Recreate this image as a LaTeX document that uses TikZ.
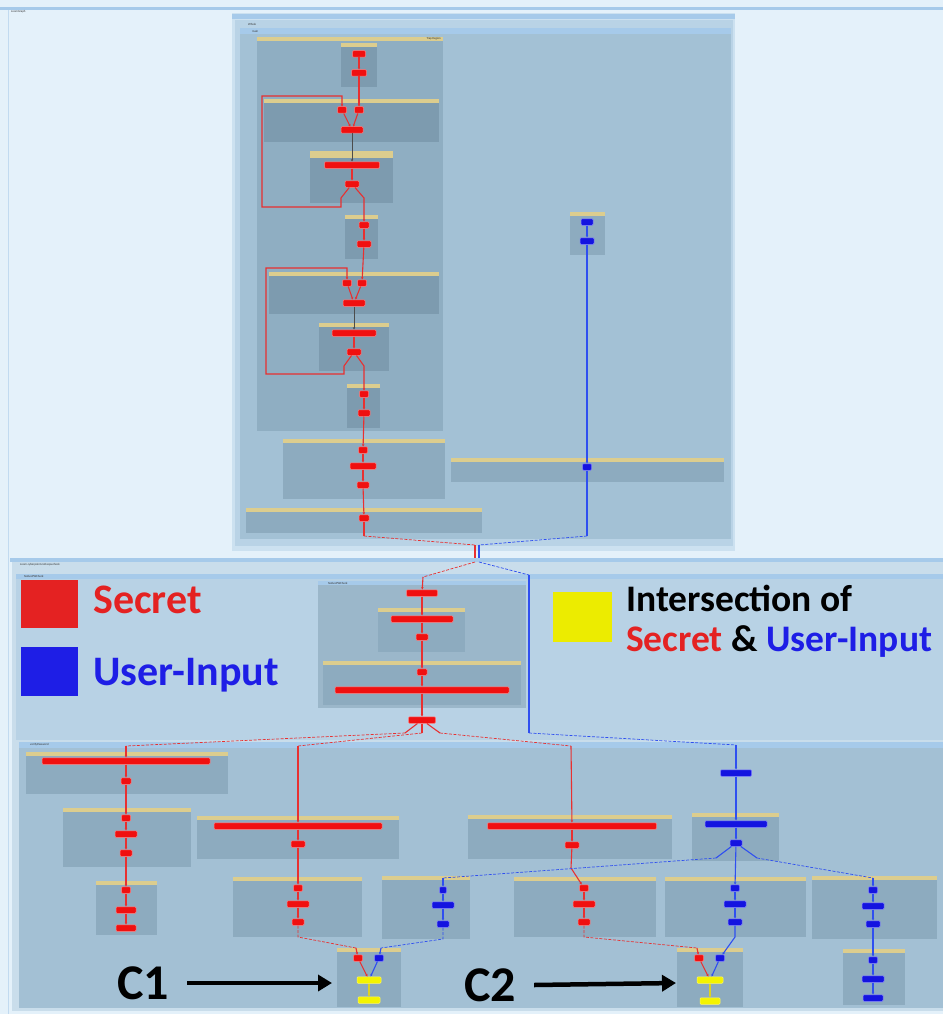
\documentclass[tikz,border=0pt]{standalone}
\usepackage{fontspec}
\setmainfont{Carlito}
\usetikzlibrary{arrows.meta}
\definecolor{pagebg}{HTML}{E4F1FA}
\definecolor{barblue}{HTML}{A6CAEA}
\definecolor{tpA}{HTML}{CCE1F0}
\definecolor{tpB}{HTML}{B9D3E6}
\definecolor{tpC}{HTML}{A3C1D5}
\definecolor{trapfill}{HTML}{8FAEC2}
\definecolor{deepbox}{HTML}{7D9BAF}
\definecolor{midbox}{HTML}{8DABBF}
\definecolor{hdr}{HTML}{DCCD8E}
\definecolor{lowA}{HTML}{C9DDEB}
\definecolor{lowB}{HTML}{B8D2E5}
\definecolor{lowC}{HTML}{A3C0D4}
\definecolor{natbox}{HTML}{9BB7CA}
\definecolor{secret}{HTML}{E42222}
\definecolor{userin}{HTML}{1E1EE6}
\definecolor{inter}{HTML}{ECEC00}
\definecolor{nred}{HTML}{F01010}
\definecolor{nblue}{HTML}{1414E0}
\definecolor{nyel}{HTML}{F4F400}
\definecolor{ered}{HTML}{E83030}
\definecolor{eblue}{HTML}{2F4FF0}
% a box with a tan header strip: x1,y1,x2,y2,fill
\newcommand{\cbox}[5]{%
  \fill[#5] (#1,#2) rectangle (#3,#4);
  \fill[hdr] (#1,#2) rectangle (#3,#2+4);}
\begin{document}
\begin{tikzpicture}[x=1pt,y=-1pt,
  nd/.style={rounded corners=1pt,minimum height=6.5pt,inner sep=0pt,line width=0.5pt},
  rn/.style={nd,fill=nred,draw=red!50!white},
  bn/.style={nd,fill=nblue,draw=blue!50!white},
  yn/.style={nd,fill=nyel,draw=yellow!60!white},
  rl/.style={draw=ered,line width=1.1pt,-{Stealth[length=2.4pt,width=2.4pt]}},
  bl/.style={draw=eblue,line width=1.1pt,-{Stealth[length=2.4pt,width=2.4pt]}},
  yl/.style={draw=yellow!85!black,line width=1.1pt,-{Stealth[length=2.4pt,width=2.4pt]}},
  kl/.style={draw=black!70,line width=1pt,-{Stealth[length=2.4pt,width=2.4pt]}},
  rd/.style={draw=ered,line width=0.7pt,dash pattern=on 3pt off 1.5pt},
  bd/.style={draw=eblue,line width=0.7pt,dash pattern=on 3pt off 1.5pt},
  rs/.style={draw=ered,line width=1.1pt},
  bs/.style={draw=eblue,line width=1.1pt},
  tiny/.style={font=\fontsize{3}{3.5}\selectfont,inner sep=0pt,text=black!80},
  legend/.style={font=\fontsize{42}{46}\selectfont\bfseries,inner sep=0pt,anchor=west},
  legendsm/.style={font=\fontsize{37.5}{41}\selectfont\bfseries,inner sep=0pt,anchor=west},
  clab/.style={font=\fontsize{50}{52}\selectfont\bfseries,inner sep=0pt},
  bigarrow/.style={line width=4.5pt,-{Triangle[length=14pt,width=16pt]}}]
\useasboundingbox (0,0) rectangle (943,1014);
\fill[pagebg] (0,0) rectangle (943,1014);
\fill[barblue] (0,7) rectangle (943,10);
\draw[barblue!70,line width=0.8pt] (8,10) -- (8,1014);
\node[tiny,anchor=west] (wintitle) at (11,12) {LoomGraph};

% ---------------- upper graph: main ----------------
\fill[tpA] (232,13) rectangle (735,551);
\fill[barblue] (232,14) rectangle (735,19);
\fill[tpB] (235,20) rectangle (733,546);
\fill[tpC] (240,34) rectangle (731,539);
\fill[barblue] (240,28) rectangle (731,34);
\node[tiny,anchor=west] (whole) at (248,24) {Whole};
\node[tiny,anchor=west] (mainlab) at (252,31) {main};

% trap region
\fill[trapfill] (257,37) rectangle (443,431);
\fill[hdr] (257,37) rectangle (443,41);
\node[tiny,anchor=east] (traplab) at (441,39) {Trap Region};

\cbox{341}{43}{377}{87}{deepbox}
\cbox{264}{99}{439}{142}{deepbox}
\cbox{310}{151}{393}{203}{deepbox}
\fill[hdr] (310,151) rectangle (393,158);
\cbox{345}{215}{378}{259}{deepbox}
\cbox{269}{272}{439}{314}{deepbox}
\cbox{319}{323}{389}{371}{deepbox}
\cbox{347}{384}{380}{428}{deepbox}
\cbox{283}{439}{445}{499}{midbox}
\cbox{246}{508}{482}{533}{midbox}
\cbox{570}{212}{605}{255}{midbox}
\cbox{451}{458}{724}{482}{midbox}

\node[rn,minimum width=13pt] (t1) at (359,54) {};
\node[rn,minimum width=15pt] (t2) at (359,73) {};
\node[rn,minimum width=9pt] (t3) at (342,110) {};
\node[rn,minimum width=9pt] (t4) at (359,110) {};
\node[rn,minimum width=22pt] (t5) at (352,130) {};
\node[rn,minimum width=55pt] (t6) at (352,165) {};
\node[rn,minimum width=14pt] (t7) at (352,184) {};
\node[rn,minimum width=10pt] (t8) at (364,225) {};
\node[rn,minimum width=14pt] (t9) at (364,244) {};
\node[rn,minimum width=9pt] (t10) at (347,283) {};
\node[rn,minimum width=9pt] (t11) at (362,283) {};
\node[rn,minimum width=22pt] (t12) at (354,303) {};
\node[rn,minimum width=44pt] (t13) at (354,333) {};
\node[rn,minimum width=14pt] (t14) at (354,352) {};
\node[rn,minimum width=9pt] (t15) at (364,394) {};
\node[rn,minimum width=12pt] (t16) at (364,413) {};
\node[rn,minimum width=9pt] (t17) at (363,450) {};
\node[rn,minimum width=26pt] (t18) at (363,466) {};
\node[rn,minimum width=12pt] (t19) at (363,485) {};
\node[rn,minimum width=10pt] (t20) at (364,518) {};
\node[bn,minimum width=12pt] (b1) at (587,222) {};
\node[bn,minimum width=14pt] (b2) at (587,241) {};
\node[bn,minimum width=9pt] (b3) at (587,467) {};

\draw[rl] (t1) -- (t2);
\draw[rl] (t2) -- (t4);
\draw[rl] (t3) -- (t5);
\draw[rl] (t4) -- (t5);
\draw[kl] (t5) -- (t6);
\draw[rl] (t6) -- (t7);
\draw[rl] (t7) -- (341,198) -- (341,207) -- (262,207) -- (262,96) -- (342,96) -- (t3);
\draw[rl] (t7) -- (364,198) -- (t8);
\draw[rl] (t8) -- (t9);
\draw[rl] (t9) -- (t11);
\draw[rl] (t10) -- (t12);
\draw[rl] (t11) -- (t12);
\draw[kl] (t12) -- (t13);
\draw[rl] (t13) -- (t14);
\draw[rl] (t14) -- (344,366) -- (344,374) -- (266,374) -- (266,268) -- (347,268) -- (t10);
\draw[rl] (t14) -- (364,366) -- (t15);
\draw[rl] (t15) -- (t16);
\draw[rl] (t16) -- (t17);
\draw[rl] (t17) -- (t18);
\draw[rl] (t18) -- (t19);
\draw[rl] (t19) -- (t20);
\draw[bl] (b1) -- (b2);
\draw[bl] (b2) -- (b3);

\coordinate (jr) at (475,545);
\coordinate (jb) at (479,545);
\draw[rs] (t20) -- (364,536);
\draw[rd] (364,536) -- (jr);
\draw[bs] (b3) -- (587,536);
\draw[bd] (587,536) -- (jb);
\draw[rs] (jr) -- (475,562);
\draw[bs] (jb) -- (479,562);

% ---------------- lower graph ----------------
\fill[barblue] (10,558) rectangle (943,562);
\fill[lowA] (12,562) rectangle (943,1011);
\node[tiny,anchor=west] (lowtitle) at (20,564.5) {Loom.cyberpoint.nativepwcheck};
\fill[lowB] (16,579) rectangle (943,740);
\fill[barblue] (16,574) rectangle (943,579);
\node[tiny,anchor=west] (natlab) at (24,576.5) {NativePWCheck};
\fill[lowC] (19,748) rectangle (943,1008);
\fill[barblue] (19,742) rectangle (943,748);
\node[tiny,anchor=west] (verlab) at (30,745) {verifyPassword};

% legend
\fill[secret] (21,580) rectangle (78,628);
\node[legend,text=secret] (lgs) at (93,600) {Secret};
\fill[userin] (21,647) rectangle (78,696);
\node[legend,text=userin] (lgu) at (93,675) {User-Input};
\fill[inter] (553,592) rectangle (612,642);
\node[legendsm,text=black] (lgi) at (626,598) {Intersection of};
\node[legendsm] (lgx) at (626,641) {\textcolor{secret}{Secret} \textcolor{black}{\&} \textcolor{userin}{User-Input}};

% NativePWCheck method box
\fill[natbox] (318,581) rectangle (526,708);
\fill[barblue] (318,581) rectangle (526,585);
\node[tiny,anchor=west] (natin) at (328,583) {NativePWCheck};
\cbox{378}{608}{465}{652}{midbox}
\cbox{323}{661}{521}{705}{midbox}
\node[rn,minimum width=31pt] (n1) at (422,593) {};
\node[rn,minimum width=62pt] (n2) at (422,619) {};
\node[rn,minimum width=12pt] (n3) at (422,637) {};
\node[rn,minimum width=10pt] (n4) at (422,672) {};
\node[rn,minimum width=174pt] (n5) at (422,690) {};
\node[rn,minimum width=27pt] (n6) at (422,720) {};
\draw[rd] (475,562) -- (423,577);
\draw[rl] (423,577) -- (n1);
\draw[rl] (n1) -- (n2);
\draw[rl] (n2) -- (n3);
\draw[rl] (n3) -- (n4);
\draw[rl] (n4) -- (n5);
\draw[rl] (n5) -- (n6);
\draw[bd] (479,562) -- (529,575);
\draw[bs] (529,575) -- (529,733);
\draw[bd] (529,733) -- (736,745);

% verifyPassword boxes
\cbox{26}{752}{228}{794}{midbox}
\cbox{63}{808}{191}{867}{midbox}
\cbox{96}{881}{157}{935}{midbox}
\cbox{197}{816}{399}{859}{midbox}
\cbox{233}{877}{362}{937}{midbox}
\cbox{468}{815}{672}{859}{midbox}
\cbox{514}{877}{656}{937}{midbox}
\cbox{692}{813}{779}{861}{midbox}
\cbox{382}{876}{470}{939}{midbox}
\cbox{665}{877}{806}{937}{midbox}
\cbox{812}{876}{937}{939}{midbox}
\cbox{843}{949}{905}{1005}{midbox}
\cbox{337}{948}{401}{1007}{midbox}
\cbox{677}{948}{743}{1007}{midbox}

\node[rn,minimum width=168pt] (v1) at (126,761) {};
\node[rn,minimum width=10pt] (v2) at (126,781) {};
\node[rn,minimum width=9pt] (v3) at (126,818) {};
\node[rn,minimum width=22pt] (v4) at (126,834) {};
\node[rn,minimum width=12pt] (v5) at (126,853) {};
\node[rn,minimum width=9pt] (v6) at (126,890) {};
\node[rn,minimum width=20pt] (v7) at (126,910) {};
\node[rn,minimum width=20pt] (v8) at (126,928) {};
\node[rn,minimum width=168pt] (v9) at (298,826) {};
\node[rn,minimum width=14pt] (v10) at (298,844) {};
\node[rn,minimum width=9pt] (v11) at (298,888) {};
\node[rn,minimum width=22pt] (v12) at (298,904) {};
\node[rn,minimum width=12pt] (v13) at (298,922) {};
\node[rn,minimum width=169pt] (v14) at (572,826) {};
\node[rn,minimum width=14pt] (v15) at (572,845) {};
\node[rn,minimum width=9pt] (v16) at (584,888) {};
\node[rn,minimum width=22pt] (v17) at (584,904) {};
\node[rn,minimum width=12pt] (v18) at (584,922) {};
\node[bn,minimum width=31pt] (bv1) at (736,773) {};
\node[bn,minimum width=62pt] (bv2) at (736,824) {};
\node[bn,minimum width=12pt] (bv3) at (736,843) {};
\node[bn,minimum width=7pt] (bv4) at (443,890) {};
\node[bn,minimum width=22pt] (bv5) at (443,905) {};
\node[bn,minimum width=12pt] (bv6) at (443,924) {};
\node[bn,minimum width=9pt] (bv7) at (735,888) {};
\node[bn,minimum width=22pt] (bv8) at (735,904) {};
\node[bn,minimum width=14pt] (bv9) at (735,922) {};
\node[bn,minimum width=9pt] (bv10) at (873,890) {};
\node[bn,minimum width=22pt] (bv11) at (873,906) {};
\node[bn,minimum width=14pt] (bv12) at (873,924) {};
\node[bn,minimum width=9pt] (bv13) at (873,960) {};
\node[bn,minimum width=22pt] (bv14) at (873,979) {};
\node[bn,minimum width=20pt] (bv15) at (873,998) {};
\node[rn,minimum width=9pt] (c1r) at (358,958) {};
\node[bn,minimum width=9pt] (c1b) at (379,958) {};
\node[yn,minimum width=24pt] (c1y) at (369,980) {};
\node[yn,minimum width=22pt] (c1c) at (369,1000) {};
\node[rn,minimum width=9pt] (c2r) at (699,958) {};
\node[bn,minimum width=9pt] (c2b) at (720,958) {};
\node[yn,minimum width=26pt] (c2y) at (710,980) {};
\node[yn,minimum width=20pt] (c2c) at (710,1001) {};

% secret flow out of r: password
\draw[rs] (n6) -- (405,733);
\draw[rs] (n6) -- (422,733);
\draw[rs] (n6) -- (440,733);
\draw[rd] (405,733) -- (126,746);
\draw[rd] (422,733) -- (298,746);
\draw[rd] (440,733) -- (571,746);
\draw[rl] (126,746) -- (v1);
\draw[rl] (298,746) -- (v9);
\draw[rl] (571,746) -- (v14);
\draw[rl] (v1) -- (v2);
\draw[rl] (v2) -- (v3);
\draw[rl] (v3) -- (v4);
\draw[rl] (v4) -- (v5);
\draw[rl] (v5) -- (v6);
\draw[rl] (v6) -- (v7);
\draw[rl] (v7) -- (v8);
\draw[rl] (v9) -- (v10);
\draw[rl] (v10) -- (v11);
\draw[rl] (v11) -- (v12);
\draw[rl] (v12) -- (v13);
\draw[rl] (v14) -- (v15);
\draw[rl] (v15) -- (571,868) -- (v16);
\draw[rl] (v16) -- (v17);
\draw[rl] (v17) -- (v18);
\draw[rd] (v13) -- (298,937) -- (356,948);
\draw[rl] (356,948) -- (c1r);
\draw[rd] (v18) -- (584,937) -- (697,948);
\draw[rl] (697,948) -- (c2r);

% user input flow
\draw[bl] (736,745) -- (bv1);
\draw[bl] (bv1) -- (bv2);
\draw[bl] (bv2) -- (bv3);
\draw[bs] (bv3) -- (716,858);
\draw[bd] (716,858) -- (443,878);
\draw[bl] (443,878) -- (bv4);
\draw[bl] (bv3) -- (bv7);
\draw[bs] (bv3) -- (757,858);
\draw[bd] (757,858) -- (873,878);
\draw[bl] (873,878) -- (bv10);
\draw[bl] (bv4) -- (bv5);
\draw[bl] (bv5) -- (bv6);
\draw[bd] (bv6) -- (443,939) -- (381,948);
\draw[bl] (381,948) -- (c1b);
\draw[bl] (bv7) -- (bv8);
\draw[bl] (bv8) -- (bv9);
\draw[bl] (bv9) -- (735,937) -- (c2b);
\draw[bl] (bv10) -- (bv11);
\draw[bl] (bv11) -- (bv12);
\draw[bl] (bv12) -- (bv13);
\draw[bl] (bv13) -- (bv14);
\draw[bl] (bv14) -- (bv15);

% intersections
\draw[rl] (c1r) -- (c1y);
\draw[bl] (c1b) -- (c1y);
\draw[yl] (c1y) -- (c1c);
\draw[rl] (c2r) -- (c2y);
\draw[bl] (c2b) -- (c2y);
\draw[yl] (c2y) -- (c2c);

% callouts
\node[clab] (lc1) at (143,983) {C1};
\node[clab] (lc2) at (490,985) {C2};
\coordinate (ac1) at (332,983);
\coordinate (ac2) at (676,983);
\draw[bigarrow] (lc1.east) ++(18,0) -- (ac1);
\draw[bigarrow] (lc2.east) ++(18,0) -- (ac2);
\end{tikzpicture}
\end{document}
